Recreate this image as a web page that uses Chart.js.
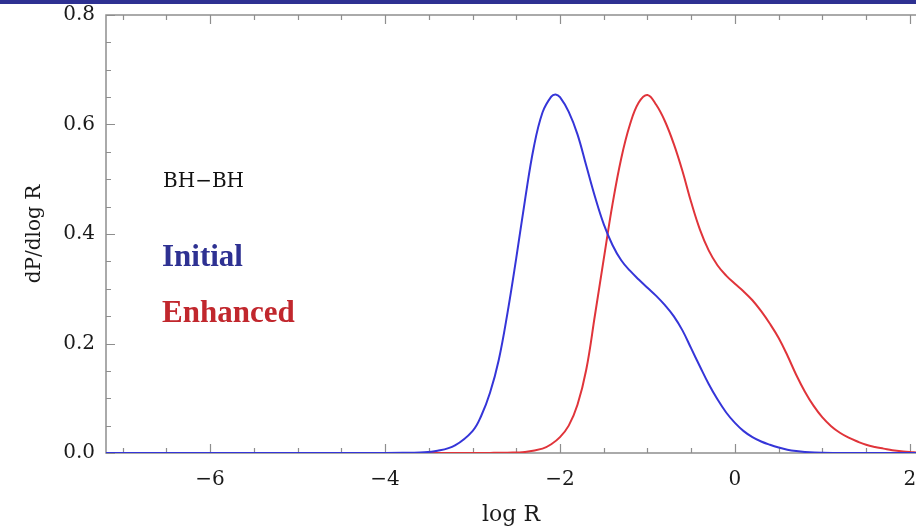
<!DOCTYPE html>
<html>
<head>
<meta charset="utf-8">
<script src="https://cdn.jsdelivr.net/npm/chart.js@4/dist/chart.umd.min.js"></script>
<style>
  html, body { margin: 0; padding: 0; background: #fff; }
  #wrap { position: relative; width: 916px; height: 530px; overflow: hidden; }
  #band { position: absolute; left: 0; top: 0; width: 916px; height: 4px; background: #2e3192; }
</style>
</head>
<body>
<div id="wrap">
  <canvas id="c" width="916" height="530"></canvas>
  <div id="band"></div>
</div>
<script>
// ---- data ----
const blueX = [-7.19, -4.2, -3.8, -3.6, -3.4, -3.2, -3.0, -2.9, -2.8, -2.7, -2.6, -2.5, -2.4, -2.3, -2.2, -2.1, -2.05, -2.0, -1.9, -1.8, -1.7, -1.6, -1.5, -1.4, -1.3, -1.2, -1.1, -1.0, -0.9, -0.8, -0.7, -0.6, -0.5, -0.4, -0.3, -0.2, -0.1, 0.0, 0.1, 0.2, 0.3, 0.4, 0.5, 0.6, 0.7, 0.8, 1.0, 1.3, 2.07];
const blueY = [0, 0, 0.0003, 0.001, 0.004, 0.014, 0.04, 0.068, 0.11, 0.17, 0.256, 0.356, 0.462, 0.558, 0.622, 0.651, 0.655, 0.650, 0.623, 0.582, 0.525, 0.468, 0.418, 0.380, 0.352, 0.333, 0.317, 0.302, 0.287, 0.270, 0.250, 0.224, 0.191, 0.158, 0.126, 0.098, 0.074, 0.055, 0.040, 0.029, 0.021, 0.015, 0.010, 0.006, 0.0035, 0.002, 0.0005, 0, 0];

const redX = [-7.19, -3.2, -2.8, -2.6, -2.4, -2.2, -2.1, -2.0, -1.9, -1.8, -1.7, -1.6, -1.5, -1.4, -1.3, -1.2, -1.1, -1.0, -0.9, -0.8, -0.7, -0.6, -0.5, -0.4, -0.3, -0.2, -0.1, 0.0, 0.1, 0.2, 0.3, 0.4, 0.5, 0.6, 0.7, 0.8, 0.9, 1.0, 1.1, 1.2, 1.3, 1.4, 1.5, 1.6, 1.7, 1.8, 1.9, 2.0, 2.07];
const redY = [0, 0, 0.0002, 0.0006, 0.002, 0.008, 0.016, 0.029, 0.05, 0.088, 0.152, 0.252, 0.354, 0.454, 0.538, 0.600, 0.640, 0.654, 0.636, 0.606, 0.565, 0.515, 0.458, 0.408, 0.370, 0.343, 0.324, 0.309, 0.295, 0.279, 0.259, 0.236, 0.210, 0.178, 0.143, 0.112, 0.086, 0.065, 0.049, 0.037, 0.028, 0.021, 0.015, 0.011, 0.008, 0.005, 0.003, 0.002, 0.001];

const xMajorTicks = [-6, -4, -2, 0, 2];
const yMajorTicks = [0.0, 0.2, 0.4, 0.6, 0.8];
const xMinorStep = 0.5;
const yMinorStep = 0.05;
const xRange = [-7.19, 2.07];
const yRange = [0, 0.8];

const seriesNames = ['Initial', 'Enhanced'];
const panelLabel = 'BH\u2212BH';
const xTitle = 'log R';
const yTitle = 'dP/dlog R';

// ---- chart ----
const serif = "'DejaVu Serif', serif";
const toPts = (xs, ys) => xs.map((v, i) => ({ x: v, y: ys[i] }));

const framePlugin = {
  id: 'frame',
  beforeDatasetsDraw(chart) {
    const { ctx, chartArea: { left, right, top, bottom }, scales: { x, y } } = chart;
    ctx.save();
    ctx.strokeStyle = '#8e8e8e';
    ctx.lineWidth = 1.5;
    ctx.beginPath();
    ctx.moveTo(right, top); ctx.lineTo(left, top); ctx.lineTo(left, bottom); ctx.lineTo(right, bottom);
    ctx.stroke();
    ctx.lineWidth = 1.2;
    ctx.beginPath();
    const xs = Math.ceil(xRange[0] / xMinorStep);
    const xe = Math.floor(xRange[1] / xMinorStep);
    for (let k = xs; k <= xe; k++) {
      const v = k * xMinorStep;
      const major = xMajorTicks.some(t => Math.abs(t - v) < 1e-9);
      const len = major ? 9 : 5;
      const px = Math.round(x.getPixelForValue(v)) + 0.5;
      ctx.moveTo(px, bottom); ctx.lineTo(px, bottom - len);
      ctx.moveTo(px, top); ctx.lineTo(px, top + len);
    }
    const ys = Math.ceil(yRange[0] / yMinorStep);
    const ye = Math.floor(yRange[1] / yMinorStep + 1e-9);
    for (let k = ys; k <= ye; k++) {
      const v = k * yMinorStep;
      const major = yMajorTicks.some(t => Math.abs(t - v) < 1e-9);
      const len = major ? 9 : 5;
      const py = Math.round(y.getPixelForValue(v)) + 0.5;
      ctx.moveTo(left, py); ctx.lineTo(left + len, py);
    }
    ctx.stroke();
    ctx.restore();
  },
  afterDraw(chart) {
    const { ctx } = chart;
    ctx.save();
    ctx.textBaseline = 'alphabetic';
    ctx.textAlign = 'left';
    ctx.fillStyle = '#111';
    ctx.font = "20px " + serif;
    ctx.fillText(panelLabel, 163, 187);
    ctx.font = "bold 31px 'Liberation Serif', serif";
    ctx.fillStyle = '#2e3192';
    ctx.fillText(seriesNames[0], 162, 266);
    ctx.fillStyle = '#c1272d';
    ctx.fillText(seriesNames[1], 162, 322);
    ctx.restore();
  }
};

new Chart(document.getElementById('c'), {
  type: 'line',
  data: {
    datasets: [
      { label: seriesNames[0], data: toPts(blueX, blueY), borderColor: '#3535d8', borderWidth: 2, pointRadius: 0, fill: false, tension: 0.4 },
      { label: seriesNames[1], data: toPts(redX, redY), borderColor: '#e0343a', borderWidth: 2, pointRadius: 0, fill: false, tension: 0.4 }
    ]
  },
  options: {
    responsive: false,
    animation: false,
    devicePixelRatio: 1,
    layout: { padding: { left: 0, right: 0, top: 15, bottom: 0 } },
    plugins: { legend: { display: false }, tooltip: { enabled: false } },
    scales: {
      x: {
        type: 'linear',
        min: xRange[0], max: xRange[1],
        grid: { display: false, drawTicks: false },
        border: { display: false },
        afterBuildTicks: s => { s.ticks = xMajorTicks.map(v => ({ value: v })); },
        afterFit: s => { s.height = 77; s.paddingLeft = 0; s.paddingRight = 0; },
        ticks: {
          padding: 15, maxRotation: 0, autoSkip: false, color: '#1a1a1a',
          font: { family: serif, size: 20 },
          callback: v => String(v).replace('-', '\u2212')
        },
        title: { display: true, text: xTitle, color: '#1a1a1a', font: { family: serif, size: 22 }, padding: { top: 0, bottom: 2 } }
      },
      y: {
        type: 'linear',
        min: yRange[0], max: yRange[1],
        grid: { display: false, drawTicks: false },
        border: { display: false },
        afterBuildTicks: s => { s.ticks = yMajorTicks.map(v => ({ value: v })); },
        afterFit: s => { s.width = 106; s.paddingTop = 0; s.paddingBottom = 0; },
        ticks: {
          padding: 11, color: '#1a1a1a',
          font: { family: serif, size: 20 },
          callback: v => Number(v).toFixed(1)
        },
        title: { display: true, text: yTitle, color: '#1a1a1a', font: { family: serif, size: 20 }, padding: { top: 23, bottom: 0 } }
      }
    }
  },
  plugins: [framePlugin]
});
</script>
</body>
</html>
